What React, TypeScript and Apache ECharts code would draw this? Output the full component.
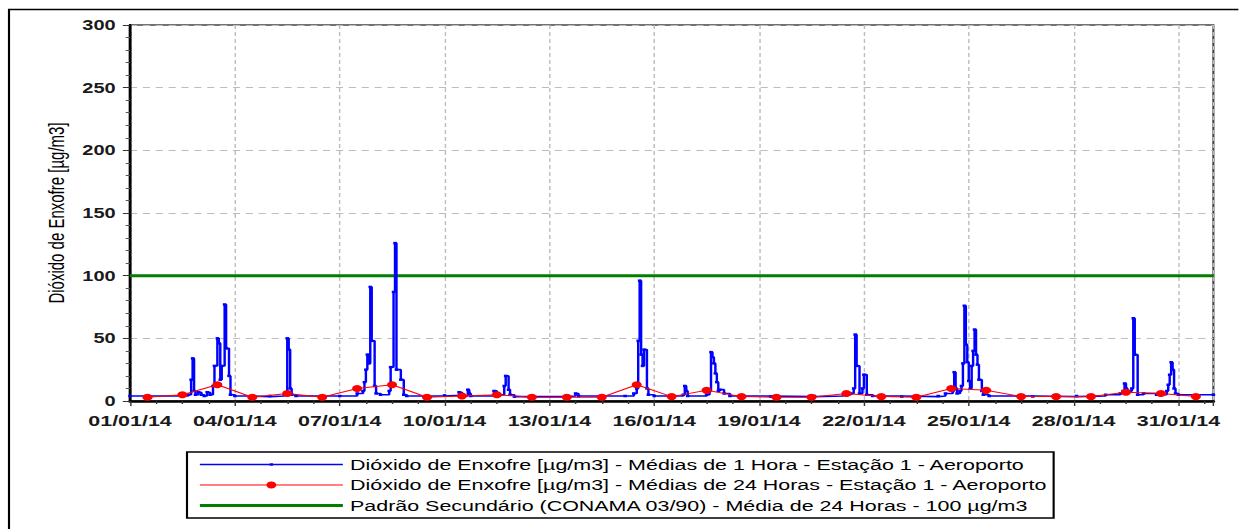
import React, { useEffect, useRef } from "react";
import * as echarts from "echarts";

// ---------- data ----------
const seriesNames = [
  "Dióxido de Enxofre [µg/m3] - Médias de 1 Hora - Estação 1 - Aeroporto",
  "Dióxido de Enxofre [µg/m3] - Médias de 24 Horas - Estação 1 - Aeroporto",
  "Padrão Secundário (CONAMA 03/90) - Média de 24 Horas - 100 µg/m3",
];
const seriesColors = ["#0000ff", "#ff0000", "#008000"];
const yAxisTitle = "Dióxido de Enxofre [µg/m3]";

// hourly means as step change points: [hour since 01/01/14 00:00, value]
const hourlyPoints: [number, number][] = [
  [0, 4], [40, 5], [42, 17], [43, 34], [44, 8], [45, 5], [47, 7], [49, 5], [51, 4], [53, 7], [55, 5],
  [57, 12], [58, 28], [60, 50], [61, 46], [62, 17], [63, 28], [65, 77], [66, 42], [68, 20], [69, 5],
  [72, 4], [84, 3.5], [96, 4], [106, 5], [108, 50], [109, 41], [110, 10], [111, 5], [114, 4],
  [144, 4], [156, 6], [160, 8], [161, 15], [162, 25], [163, 37], [164, 30], [165, 91], [166, 48],
  [168, 12], [169, 6], [172, 5], [178, 8], [179, 27], [181, 87], [182, 126], [183, 25], [186, 17],
  [188, 5], [190, 4],
  [216, 4.5], [226, 7], [228, 4], [232, 9], [233, 6], [234, 4], [250, 8], [252, 5], [257, 12],
  [258, 20], [260, 9], [261, 5], [264, 3.5],
  [300, 4], [306, 6], [308, 4], [340, 4], [346, 6], [348, 10], [349, 48], [350, 96], [351, 37],
  [352, 28], [353, 41], [355, 10], [356, 5], [360, 4],
  [380, 5], [381, 12], [382, 8], [383, 4], [396, 5], [398, 8], [399, 39], [400, 35], [401, 30],
  [402, 22], [403, 15], [404, 8], [405, 9], [408, 6], [412, 4],
  [440, 3.5], [470, 4], [490, 5], [495, 6], [497, 10], [498, 53], [499, 28], [501, 6], [503, 10],
  [504, 21], [506, 5], [510, 4],
  [530, 3.5], [555, 4], [560, 6], [565, 8], [566, 23], [567, 10], [568, 6], [570, 8], [571, 12],
  [572, 30], [573, 76], [574, 45], [575, 31], [576, 16], [577, 10], [578, 28], [579, 40], [580, 57],
  [581, 37], [582, 29], [583, 17], [585, 8], [586, 5], [590, 4],
  [620, 3.5], [650, 4], [670, 5], [680, 6], [682, 8], [683, 14], [684, 10], [685, 7], [687, 8],
  [688, 10], [689, 66], [690, 37], [692, 5], [696, 6],
  [705, 5], [712, 8], [713, 13], [714, 21], [715, 31], [716, 25], [717, 10], [718, 6], [720, 5], [744, 5],
];

// 24-hour means, one per day (plotted at noon of each day)
const dailyMeans = [
  3, 5, 13, 3, 6, 3, 10, 13, 3, 4, 5, 3, 3, 3, 13, 3.5, 8.5, 3.5, 3, 3, 6, 3.5, 3, 10, 8.5, 3.5, 3.5,
  3.5, 7, 6, 3.5,
];

const standardLimit = 100;
const monthHours = 744;
const yTicks = { min: 0, max: 300, interval: 50 };

// legend icons (line + marker), drawn in a 100-wide box
const legendIcons = [
  "path://M0,0.6 H100 V2 H0 Z M48.8,0 H51.2 V2.6 H48.8 Z",
  "path://M0,3 H100 V4 H0 Z M46.5,3.5 A3.5,3.5 0 1,1 53.5,3.5 A3.5,3.5 0 1,1 46.5,3.5 Z",
  "path://M0,0 H100 V3 H0 Z",
];

// ---------- layout ----------
const STRETCH = 1.43;
const FULL_W = 1239;
const FULL_H = 529;
const W = FULL_W / STRETCH;
const FONT = "'Liberation Sans', Arial, sans-serif";

const hourLabel = (h: number) => {
  if (h >= monthHours) return "";
  const d = Math.floor(h / 24) + 1;
  return `${String(d).padStart(2, "0")}/01/14`;
};

export default function App() {
  const ref = useRef<HTMLDivElement>(null);

  useEffect(() => {
    if (!ref.current) return;
    const chart = echarts.init(ref.current, null, { renderer: "svg" });
    const dailyData = dailyMeans.map((v, i) => [i * 24 + 12, v]);
    chart.setOption({
      animation: false,
      backgroundColor: "#fff",
      textStyle: { fontFamily: FONT },
      graphic: [
        {
          type: "rect",
          shape: { x: 9 / STRETCH, y: 9.5, width: 2000, height: 2000 },
          style: { fill: "none", stroke: "#000", lineWidth: 1.5 },
          silent: true,
          z: 100,
        },
      ],
      grid: {
        left: 130 / STRETCH,
        top: 25,
        right: W - 1214 / STRETCH,
        bottom: FULL_H - 401,
        show: true,
        borderColor: "#444",
        borderWidth: 1.5,
        backgroundColor: "transparent",
      },
      legend: {
        orient: "vertical",
        left: 187 / STRETCH,
        top: 452,
        itemWidth: 100,
        itemHeight: 14,
        itemGap: 5.5,
        symbolKeepAspect: true,
        padding: [5, 4, 5, 9],
        borderColor: "#000",
        borderWidth: 1.5,
        textStyle: { fontSize: 15, color: "#000", fontFamily: FONT },
        data: seriesNames.map((name, i) => ({
          name,
          icon: legendIcons[i],
          itemStyle: { color: seriesColors[i], borderColor: seriesColors[i], borderWidth: 0 },
        })),
      },
      xAxis: {
        type: "value",
        min: 0,
        max: monthHours,
        interval: 72,
        axisLine: { show: true, onZero: false, lineStyle: { color: "#000", width: 2.5 } },
        axisTick: { show: true, length: 5, lineStyle: { color: "#333", width: 1 } },
        minorTick: { show: true, splitNumber: 4, length: 3, lineStyle: { color: "#333", width: 1 } },
        splitLine: { show: true, lineStyle: { color: "#bdbdbd", type: [4, 3], width: 1 } },
        axisLabel: {
          formatter: hourLabel,
          fontSize: 15,
          fontWeight: "bold",
          color: "#1a1a1a",
          margin: 12,
          fontFamily: FONT,
          showMaxLabel: false,
        },
      },
      yAxis: {
        type: "value",
        min: yTicks.min,
        max: yTicks.max,
        interval: yTicks.interval,
        name: yAxisTitle,
        nameLocation: "middle",
        nameGap: 32,
        nameTextStyle: { fontSize: 15, color: "#000", fontFamily: FONT },
        axisLine: { show: true, lineStyle: { color: "#000", width: 2 } },
        axisTick: { show: true, length: 5, lineStyle: { color: "#333", width: 1 } },
        minorTick: { show: true, splitNumber: 5, length: 3, lineStyle: { color: "#555", width: 1 } },
        splitLine: { show: true, lineStyle: { color: "#bdbdbd", type: [5, 4], width: 1 } },
        axisLabel: {
          fontSize: 14,
          fontWeight: "bold",
          color: "#1a1a1a",
          margin: 10,
          fontFamily: FONT,
        },
      },
      series: [
        {
          name: seriesNames[0],
          type: "line",
          step: "end",
          data: hourlyPoints,
          symbol: "rect",
          symbolSize: 2.5,
          showSymbol: true,
          color: seriesColors[0],
          itemStyle: { color: seriesColors[0] },
          lineStyle: { color: seriesColors[0], width: 1.7 },
          z: 3,
        },
        {
          name: seriesNames[1],
          type: "line",
          data: dailyData,
          symbol: "circle",
          symbolSize: 7,
          showSymbol: true,
          color: seriesColors[1],
          itemStyle: { color: seriesColors[1] },
          lineStyle: { color: seriesColors[1], width: 1 },
          z: 4,
        },
        {
          name: seriesNames[2],
          type: "line",
          data: [
            [0, standardLimit],
            [monthHours, standardLimit],
          ],
          symbol: "none",
          color: seriesColors[2],
          itemStyle: { color: seriesColors[2] },
          lineStyle: { color: seriesColors[2], width: 3 },
          z: 2,
        },
      ],
    });
    return () => chart.dispose();
  }, []);

  return (
    <div
      style={{
        position: "fixed",
        left: 0,
        top: 0,
        width: FULL_W,
        height: FULL_H,
        overflow: "hidden",
        background: "#fff",
      }}
    >
      <div
        ref={ref}
        style={{
          width: W,
          height: FULL_H,
          transform: `scaleX(${STRETCH})`,
          transformOrigin: "0 0",
        }}
      />
    </div>
  );
}
